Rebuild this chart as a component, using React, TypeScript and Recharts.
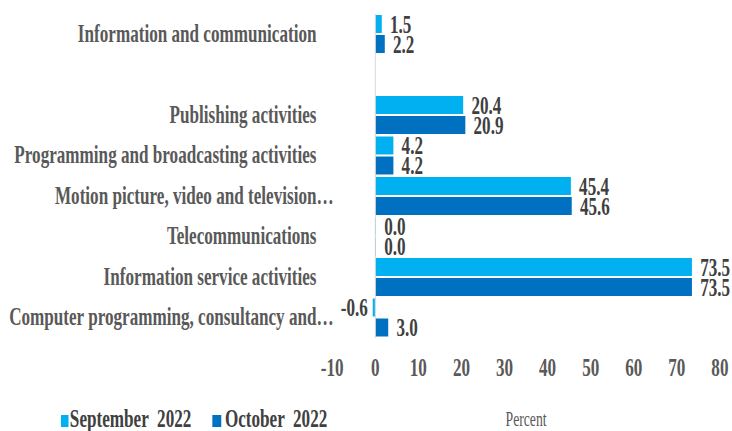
import React from 'react';
import { BarChart, Bar, XAxis, YAxis, LabelList, Legend, ReferenceLine } from 'recharts';

const categories = [
  'Information and communication',
  '',
  'Publishing activities',
  'Programming and broadcasting activities',
  'Motion picture, video and television…',
  'Telecommunications',
  'Information service activities',
  'Computer programming, consultancy and…',
];
const september2022: (number | null)[] = [1.5, null, 20.4, 4.2, 45.4, 0.0, 73.5, -0.6];
const october2022: (number | null)[] = [2.2, null, 20.9, 4.2, 45.6, 0.0, 73.5, 3.0];
const xTicks = [-10, 0, 10, 20, 30, 40, 50, 60, 70, 80];
const seriesNames = ['September  2022', 'October  2022'];
const axisTitle = 'Percent';

const data = categories.map((name, i) => ({
  name,
  sep: september2022[i],
  oct: october2022[i],
}));

const FONT = "'Times New Roman', 'Liberation Serif', serif";
const SEP = '#00B0F0';
const OCT = '#0070C0';
const S = 0.685;
const W0 = Math.round(732 / S);
const H = 431;
const PLOT_LEFT = Math.round(332.5 / S);
const PLOT_RIGHT = Math.round(720 / S);
const FS = 25;

// zero values keep a hairline so their value label is still placed
const zeroHairline = (value: any) => (value === 0 ? 1 : 0);

const renderValueLabel = (props: any) => {
  const { x, y, width, height, value } = props;
  if (value === null || value === undefined || value === '') return null;
  const v = Number(value);
  const x0 = Number(x);
  const w = Number(width);
  const left = Math.min(x0, x0 + w);
  const right = Math.max(x0, x0 + w);
  const neg = v < 0;
  return (
    <text
      x={neg ? left - 7 : right + 12}
      y={Number(y) + Number(height) / 2}
      dy="0.355em"
      textAnchor={neg ? 'end' : 'start'}
      fill="#404040"
      fontSize={FS}
      fontWeight="bold"
      fontFamily={FONT}
    >
      {v.toFixed(1)}
    </text>
  );
};

const renderCategoryTick = (props: any) => {
  const { x, y, payload } = props;
  const label: string = payload?.value ?? '';
  const overhang = label.endsWith('…') ? FS : 0;
  return (
    <text
      x={Number(x) + overhang}
      y={Number(y)}
      dy="0.3em"
      textAnchor="end"
      fill="#595959"
      fontSize={FS}
      fontWeight="bold"
      fontFamily={FONT}
    >
      {label}
    </text>
  );
};

const renderLegend = () => (
  <div
    style={{
      display: 'flex',
      alignItems: 'center',
      height: 24,
      paddingLeft: 89,
      fontFamily: FONT,
      fontWeight: 'bold',
      fontSize: FS,
      lineHeight: '24px',
      color: '#404040',
      whiteSpace: 'pre',
    }}
  >
    <span style={{ display: 'inline-block', width: 11, height: 12, background: SEP, marginRight: 2, position: 'relative', top: 2 }} />
    <span>{seriesNames[0]}</span>
    <span style={{ display: 'inline-block', width: 13, height: 12, background: OCT, marginLeft: 31, marginRight: 5, position: 'relative', top: 2 }} />
    <span>{seriesNames[1]}</span>
  </div>
);

export default function App() {
  return (
    <div style={{ position: 'absolute', left: 0, top: 0, width: 732, height: H, overflow: 'hidden', background: '#fff' }}>
      <div style={{ width: W0, height: H, transform: `scaleX(${S})`, transformOrigin: '0 0' }}>
        <BarChart
          width={W0}
          height={H}
          data={data}
          layout="vertical"
          margin={{ top: 14, right: W0 - PLOT_RIGHT, left: 0, bottom: 0 }}
          barSize={18}
          barGap={2}
        >
          <XAxis
            type="number"
            domain={[-10, 80]}
            ticks={xTicks}
            axisLine={false}
            tickLine={false}
            tickSize={0}
            tickMargin={20}
            height={69}
            interval={0}
            tick={{ fill: '#595959', fontSize: FS, fontWeight: 'bold', fontFamily: FONT }}
            label={{ value: axisTitle, position: 'bottom', offset: 5, fill: '#595959', fontSize: 20, fontFamily: FONT }}
          />
          <YAxis
            type="category"
            dataKey="name"
            width={PLOT_LEFT}
            axisLine={false}
            tickLine={false}
            tickSize={0}
            tickMargin={23}
            interval={0}
            tick={renderCategoryTick}
          />
          <ReferenceLine x={0} stroke="#D9D9D9" strokeWidth={1.5} />
          <Legend
            verticalAlign="bottom"
            align="left"
            content={renderLegend}
            wrapperStyle={{ left: 0, bottom: 0, width: W0, height: 24 }}
          />
          <Bar dataKey="sep" name={seriesNames[0]} fill={SEP} minPointSize={zeroHairline} isAnimationActive={false}>
            <LabelList dataKey="sep" content={renderValueLabel} />
          </Bar>
          <Bar dataKey="oct" name={seriesNames[1]} fill={OCT} minPointSize={zeroHairline} isAnimationActive={false}>
            <LabelList dataKey="oct" content={renderValueLabel} />
          </Bar>
        </BarChart>
      </div>
    </div>
  );
}
